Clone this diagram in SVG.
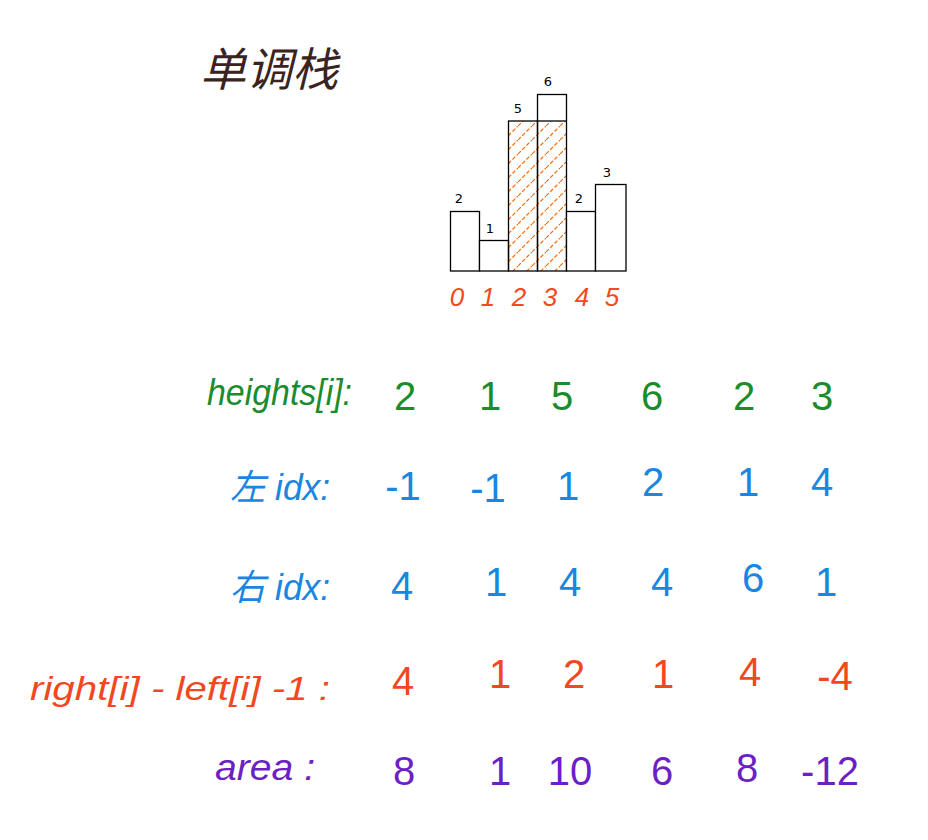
<svg xmlns="http://www.w3.org/2000/svg" width="928" height="840" viewBox="0 0 928 840">
<defs>
<pattern id="hatch" patternUnits="userSpaceOnUse" width="14" height="14">
<line x1="-7" y1="7" x2="7" y2="-7" stroke="#b0b0b0" stroke-width="0.7" stroke-dasharray="2 3"/>
<line x1="7" y1="21" x2="21" y2="7" stroke="#b0b0b0" stroke-width="0.7" stroke-dasharray="2 3"/>
<line x1="0" y1="14" x2="14" y2="0" stroke="#ff6a00" stroke-width="1.2" stroke-dasharray="4 2"/>
</pattern>
</defs>
<style>
.bar{fill:#fff;stroke:#000;stroke-width:1.3}
.bl{font-family:"DejaVu Sans",sans-serif;font-size:13px;fill:#000;text-anchor:middle}
.hw{font-family:"Liberation Sans","Noto Sans CJK SC",sans-serif;text-anchor:middle}
.idx{fill:#f04a1e;font-size:26px;font-style:italic}
.g{fill:#1b8c2e}
.b{fill:#1a86e0}
.o{fill:#f2471f}
.p{fill:#6c1fc4}
.v{font-size:40px}
.lab{text-anchor:start;font-style:italic}
</style>
<rect width="928" height="840" fill="#fff"/>
<g id="title">
<text x="200" y="86" font-family="Noto Sans CJK SC,sans-serif" font-size="46" fill="#3b2420" font-style="italic">单调栈</text>
</g>
<g id="histogram">
<rect class="bar" x="450.5" y="211.5" width="29" height="59.5"/>
<rect class="bar" x="479.5" y="240.5" width="29" height="30.5"/>
<rect x="508.5" y="121" width="58" height="150" fill="url(#hatch)"/>
<rect class="bar" x="508.5" y="121" width="29" height="150" style="fill:none"/>
<rect class="bar" x="537.5" y="94.5" width="29" height="176.5" style="fill:none"/>
<line x1="537.5" y1="121" x2="566.5" y2="121" stroke="#000" stroke-width="1.3"/>
<rect class="bar" x="566.5" y="211.5" width="29" height="59.5"/>
<rect class="bar" x="595.5" y="184.5" width="30.5" height="86.5"/>
<text class="bl" x="459" y="203">2</text>
<text class="bl" x="490" y="233">1</text>
<text class="bl" x="518" y="113">5</text>
<text class="bl" x="548" y="86">6</text>
<text class="bl" x="579" y="203">2</text>
<text class="bl" x="607" y="177">3</text>
</g>
<g id="indices" class="hw idx">
<text x="457" y="306">0</text>
<text x="488" y="306">1</text>
<text x="519" y="306">2</text>
<text x="550" y="306">3</text>
<text x="582" y="306">4</text>
<text x="612" y="306">5</text>
</g>
<g id="row-heights" class="hw g">
<text class="lab" x="207" y="405" font-size="36" textLength="145" lengthAdjust="spacingAndGlyphs">heights[i]:</text>
<text class="v" x="405" y="410">2</text>
<text class="v" x="490" y="410">1</text>
<text class="v" x="562" y="410">5</text>
<text class="v" x="652" y="410">6</text>
<text class="v" x="744" y="410">2</text>
<text class="v" x="822" y="410">3</text>
</g>
<g id="row-left" class="hw b">
<text class="lab" x="230" y="500" font-size="36" textLength="100" lengthAdjust="spacingAndGlyphs">左 idx:</text>
<text class="v" x="403" y="500">-1</text>
<text class="v" x="488" y="502">-1</text>
<text class="v" x="568" y="500">1</text>
<text class="v" x="653" y="496">2</text>
<text class="v" x="748" y="496">1</text>
<text class="v" x="822" y="496">4</text>
</g>
<g id="row-right" class="hw b">
<text class="lab" x="230" y="600" font-size="36" textLength="100" lengthAdjust="spacingAndGlyphs">右 idx:</text>
<text class="v" x="402" y="600">4</text>
<text class="v" x="496" y="596">1</text>
<text class="v" x="570" y="596">4</text>
<text class="v" x="662" y="596">4</text>
<text class="v" x="753" y="592">6</text>
<text class="v" x="826" y="596">1</text>
</g>
<g id="row-width" class="hw o">
<text class="lab" x="30" y="700" font-size="34" textLength="300" lengthAdjust="spacingAndGlyphs">right[i] - left[i] -1 :</text>
<text class="v" x="403" y="695">4</text>
<text class="v" x="500" y="688">1</text>
<text class="v" x="574" y="688">2</text>
<text class="v" x="663" y="688">1</text>
<text class="v" x="750" y="686">4</text>
<text class="v" x="835" y="690">-4</text>
</g>
<g id="row-area" class="hw p">
<text class="lab" x="215" y="780" font-size="36" textLength="100" lengthAdjust="spacingAndGlyphs">area :</text>
<text class="v" x="404" y="785">8</text>
<text class="v" x="500" y="785">1</text>
<text class="v" x="570" y="785">10</text>
<text class="v" x="662" y="785">6</text>
<text class="v" x="747" y="782">8</text>
<text class="v" x="830" y="785">-12</text>
</g>
</svg>
